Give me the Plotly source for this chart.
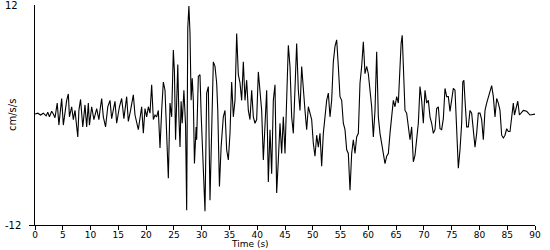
import plotly.graph_objects as go

time_s = [0, 0.5, 1.0, 1.5, 2.0, 2.3, 2.6, 3.0, 3.3, 3.6,
          4.0, 4.3, 4.8, 5.1, 5.7, 6.0, 6.2, 6.6, 6.9, 7.2, 7.7, 7.9, 8.2, 8.6, 9.0, 9.3, 9.6, 9.8,
          10.2, 10.6, 11.1, 11.5, 11.7, 12.0, 12.3, 12.7, 13.1, 13.5, 13.8, 14.4, 14.7, 15.2, 15.6,
          16.0, 16.5, 16.8, 17.2, 17.7, 18.0, 18.3, 18.6, 19.2, 19.5, 19.8,
          20.1, 20.4, 20.7, 21.0, 21.3, 21.6, 21.9, 22.2, 22.5, 22.8, 23.1, 23.4, 23.7, 24.0, 24.3,
          24.6, 24.9, 25.1, 25.3, 25.7, 25.9, 26.1, 26.3, 26.5, 26.8, 27.1, 27.3, 27.5, 27.7, 27.9,
          28.1, 28.3, 28.5, 28.7, 29.0, 29.1, 29.4, 29.7, 29.9, 30.1, 30.4, 30.6, 30.9, 31.2, 31.5,
          31.8, 32.1, 32.4, 32.7, 32.9, 33.2, 33.5, 33.9, 34.2, 34.5, 34.8, 35.1, 35.4, 35.7, 36.0,
          36.3, 36.6, 36.9, 37.2, 37.5, 37.8, 38.1, 38.4, 38.7, 39.0, 39.3, 39.6, 39.9, 40.2,
          40.5, 40.8, 41.1, 41.4, 41.7, 42.0, 42.3, 42.6, 42.9, 43.2, 43.5, 43.8, 44.1, 44.4, 44.7,
          45.0, 45.3, 45.6, 45.9, 46.2, 46.5, 46.8, 47.1, 47.4, 47.7, 48.0, 48.3, 48.6, 48.9, 49.2,
          49.5, 49.8, 50.1, 50.4, 50.7, 51.0, 51.3, 51.6, 51.9, 52.2, 52.5, 52.8, 53.1, 53.4, 53.7,
          54.0, 54.3, 54.6, 54.9, 55.2, 55.5, 55.8, 56.1, 56.4, 56.7, 57.0, 57.3, 57.6, 57.9, 58.2,
          58.5, 58.8, 59.1, 59.4, 59.7, 60.0, 60.3, 60.6, 60.9, 61.2, 61.5, 61.8, 62.1, 62.4, 62.7,
          63.0, 63.3, 63.6, 63.9, 64.2, 64.5, 64.8, 65.1, 65.4, 65.7, 65.9, 66.1, 66.3, 66.6, 66.9,
          67.2, 67.5, 67.8, 68.1, 68.4, 68.7, 69.0, 69.3, 69.6, 69.9, 70.2, 70.5, 70.8, 71.1, 71.4,
          71.7, 72.0, 72.3, 72.6, 72.9, 73.2, 73.5, 73.8, 74.1, 74.4, 74.7, 75.0, 75.3, 75.6, 75.9,
          76.2, 76.5, 76.8, 77.0, 77.2, 77.4, 77.7, 78.0, 78.3, 78.6, 78.9, 79.2, 79.5, 79.8, 80.1,
          80.4, 80.7, 81.0, 81.3, 81.6, 81.9, 82.2, 82.5, 82.8, 83.1, 83.4, 83.7, 84.0, 84.3, 84.6,
          84.9, 85.2, 85.5, 85.8, 86.1, 86.3, 86.6, 86.9, 87.2, 87.5, 87.9, 88.5, 89.1, 90.0]

accel = [0.1, 0.2, 0.0, 0.2, -0.1, 0.3, -0.2, 0.4, 0.1, -0.3,
         1.3, -1.1, 1.8, -1.1, 1.6, 2.3, -0.2, 0.9, -0.5, 0.5, -2.4, 0.5, 1.7, -1.3, 1.1, -1.3, 1.3, -1.1,
         0.9, -0.5, 0.7, -0.5, 0.5, 1.8, -0.2, -1.3, 0.9, 1.6, -0.4, 1.5, -0.9, 0.9, 1.8,
         -0.4, 2.0, -0.7, 0.5, 2.2, 0.0, -0.9, -1.6, 0.9, -2.0, 0.7,
         -0.2, 0.9, 0.2, 3.3, -0.5, 0.0, -0.2, 0.5, -3.6, 0.5, 3.6, 2.7, -2.7, -6.9, 1.3,
         -0.2, 7.1, 4.7, -2.7, 5.5, -0.2, -3.5, 1.5, -0.9, 2.7, -1.1, -10.4, 9.5, 11.9, 8.9,
         1.6, 4.0, 1.6, -5.3, -1.3, -2.7, 4.2, 4.4, 0.2, -2.7, -6.7, -10.5, 2.4, 3.1, -9.3,
         -3.1, 5.8, 5.3, 3.5, 0.5, -7.8, -3.5, -0.2, 0.5, -3.8, -4.9, -2.0, 3.6, -0.2, 1.6,
         8.9, 4.4, 3.5, 1.6, 5.8, 1.6, 3.8, 0.5, -0.5, 2.7, -0.2, -0.9, -0.5, 4.7,
         2.5, 0.5, -4.9, -0.2, 2.7, -7.3, -1.6, -6.4, 1.6, 3.3, -8.5, -4.9, -0.9, -4.2, -0.2,
         -4.2, 1.6, 7.6, 5.3, -0.2, -2.0, 3.5, 7.8, 2.7, 0.5, 5.3, 2.4, 0.5, -1.6, 0.9,
         0.2, -0.5, -3.1, -4.5, -2.2, -3.5, -2.0, -5.6, -2.0, -0.5, 1.6, 2.4, -0.2, 1.6, 5.8,
         7.5, 8.2, 5.3, 2.0, 1.6, -0.9, -1.6, -3.8, -4.2, -8.2, -4.2, -2.7, -4.2, -2.4, -2.0,
         3.5, 5.3, 8.0, 4.5, 5.3, 4.5, 2.4, 0.9, -2.4, 0.5, 6.9, -0.2, -2.0, -3.1, -4.2,
         -5.3, -4.5, -4.2, -2.0, -0.2, 1.6, 0.9, 2.0, 1.3, 5.3, 7.8, 8.7, 6.0, 0.5, 0.2,
         -1.3, -2.7, -1.3, -5.1, -4.4, -2.4, -0.9, 3.1, 1.6, -0.9, 2.7, 1.3, 1.6, -0.2, -0.9,
         -2.0, -1.6, 0.7, 0.9, -1.5, -1.6, -0.4, 2.9, 2.0, 2.0, 0.4, 1.6, 2.9, 2.7, -2.7,
         -5.8, -3.8, -0.9, 3.6, 3.8, 1.6, -1.3, -1.3, 0.5, 0.2, -1.6, -3.5, -2.0, 0.2, 0.2,
         -0.5, -2.7, 0.5, 1.3, 2.0, 2.7, 3.2, 2.0, -0.2, 1.8, 1.3, 0.5, -2.2, -2.5, -2.2,
         -1.5, -1.8, -1.8, 0.2, 1.3, 0.0, 0.9, 1.5, 0.0, 0.2, 0.5, 0.4, 0.0, 0.1]

x_ticks = list(range(0, 91, 5))
y_labels = ["12", "-12"]
y_label_vals = [12, -12]

FONT = "DejaVu Sans"

fig = go.Figure()
fig.add_trace(go.Scatter(x=time_s, y=accel, mode="lines",
                         line=dict(color="black", width=1.1), showlegend=False,
                         hoverinfo="skip"))

annotations = []
for lab, val in zip(y_labels, y_label_vals):
    annotations.append(dict(text=lab, x=-0.064, xref="paper", xanchor="left",
                            y=val, yref="y", yanchor="middle", showarrow=False,
                            font=dict(family=FONT, size=10, color="black")))
annotations.append(dict(text="Time (s)", x=0.43, xref="paper", xanchor="center",
                        y=-0.1136, yref="paper", yanchor="bottom", showarrow=False,
                        borderpad=0,
                        font=dict(family=FONT, size=9, color="black")))
annotations.append(dict(text="cm/s/s", x=-0.046, xref="paper", xanchor="center",
                        y=0.5, yref="paper", yanchor="middle", showarrow=False,
                        textangle=-90,
                        font=dict(family=FONT, size=10, color="black")))

fig.update_layout(
    width=550, height=250,
    margin=dict(l=35, r=15, t=5, b=25),
    plot_bgcolor="white", paper_bgcolor="white",
    xaxis=dict(range=[0, 90], tickvals=x_ticks, ticks="outside", ticklen=4,
               tickcolor="black", showline=True, linecolor="black", linewidth=1,
               showgrid=False, zeroline=False, ticklabelstandoff=-3,
               tickfont=dict(family=FONT, size=9, color="black")),
    yaxis=dict(range=[-12, 12], tickvals=[-12], ticks="outside", ticklen=5,
               tickcolor="black", showticklabels=False,
               showline=True, linecolor="black", linewidth=1,
               showgrid=False, zeroline=False),
    annotations=annotations,
)

fig.write_html("out.html")
